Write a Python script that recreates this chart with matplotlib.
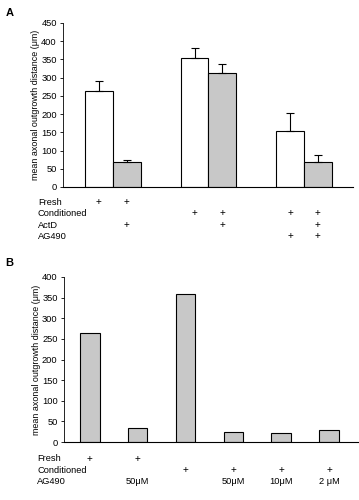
import numpy as np
import matplotlib.pyplot as plt
from matplotlib.transforms import blended_transform_factory

plt.rcParams['font.family'] = ['Liberation Sans', 'DejaVu Sans']

# panel A data
a_means = [263, 68, 355, 312, 153, 68]
a_errs = [27, 7, 27, 26, 49, 19]
a_colors = ['white', '#c8c8c8', 'white', '#c8c8c8', 'white', '#c8c8c8']
a_rows = ['Fresh', 'Conditioned', 'ActD', 'AG490']
a_marks = [['+', '+', '', '', '', ''],
           ['', '', '+', '+', '+', '+'],
           ['', '+', '', '+', '', '+'],
           ['', '', '', '', '+', '+']]

# panel B data
b_means = [265, 34, 360, 24, 22, 29]
b_rows = ['Fresh', 'Conditioned', 'AG490']
b_marks = [['+', '+', '', '', '', ''],
           ['', '', '+', '+', '+', '+'],
           ['', '50\u03bcM', '', '50\u03bcM', '10\u03bcM', '2 \u03bcM']]

fs = 6.7
fig = plt.figure(figsize=(3.59, 5.0), dpi=100)

def style(ax):
    for s in ['top', 'right']:
        ax.spines[s].set_visible(False)
    ax.spines['left'].set_linewidth(0.6)
    ax.spines['bottom'].set_linewidth(0.8)
    ax.tick_params(axis='y', labelsize=fs, length=2.5, width=0.6, pad=2)
    ax.tick_params(axis='x', length=0, labelbottom=False)
    ax.set_ylabel('mean axonal outgrowth distance (\u03bcm)', fontsize=6.4, labelpad=1)

# ---- A
axA = fig.add_axes([0.1755, 0.626, 0.8075, 0.328])
xa = np.array([-0.145, 0.145, 0.855, 1.145, 1.855, 2.145])
axA.bar(xa, a_means, width=0.29, color=a_colors, edgecolor='black', linewidth=0.8)
axA.errorbar(xa, np.array(a_means), yerr=[np.zeros(6), a_errs], fmt='none',
             ecolor='black', elinewidth=0.8, capsize=3, capthick=0.8)
axA.set_xlim(-0.52, 2.51)
axA.set_ylim(0, 450)
axA.set_yticks(np.arange(0, 451, 50))
style(axA)
trA = blended_transform_factory(axA.transData, axA.transAxes)
rowy = [-0.092, -0.159, -0.232, -0.299]
for r, name in enumerate(a_rows):
    axA.text(-0.087, rowy[r], name, transform=axA.transAxes, fontsize=fs,
             ha='left', va='center')
    for i, m in enumerate(a_marks[r]):
        if m:
            axA.text(xa[i], rowy[r], m, transform=trA, fontsize=fs + 0.5,
                     ha='center', va='center')
fig.text(0.015, 0.975, 'A', fontsize=8, fontweight='bold', va='center')

# ---- B
axB = fig.add_axes([0.178, 0.116, 0.819, 0.33])
xb = np.arange(6)
axB.bar(xb, b_means, width=0.41, color='#c8c8c8', edgecolor='black', linewidth=0.8)
axB.set_xlim(-0.54, 5.6)
axB.set_ylim(0, 400)
axB.set_yticks(np.arange(0, 401, 50))
style(axB)
trB = blended_transform_factory(axB.transData, axB.transAxes)
rowyb = [-0.103, -0.17, -0.242]
for r, name in enumerate(b_rows):
    axB.text(-0.09, rowyb[r], name, transform=axB.transAxes, fontsize=fs,
             ha='left', va='center')
    for i, m in enumerate(b_marks[r]):
        if m:
            axB.text(xb[i], rowyb[r], m, transform=trB,
                     fontsize=fs + 0.5 if m == '+' else fs,
                     ha='center', va='center')
fig.text(0.015, 0.474, 'B', fontsize=8, fontweight='bold', va='center')

fig.savefig('out.png', dpi=100)
